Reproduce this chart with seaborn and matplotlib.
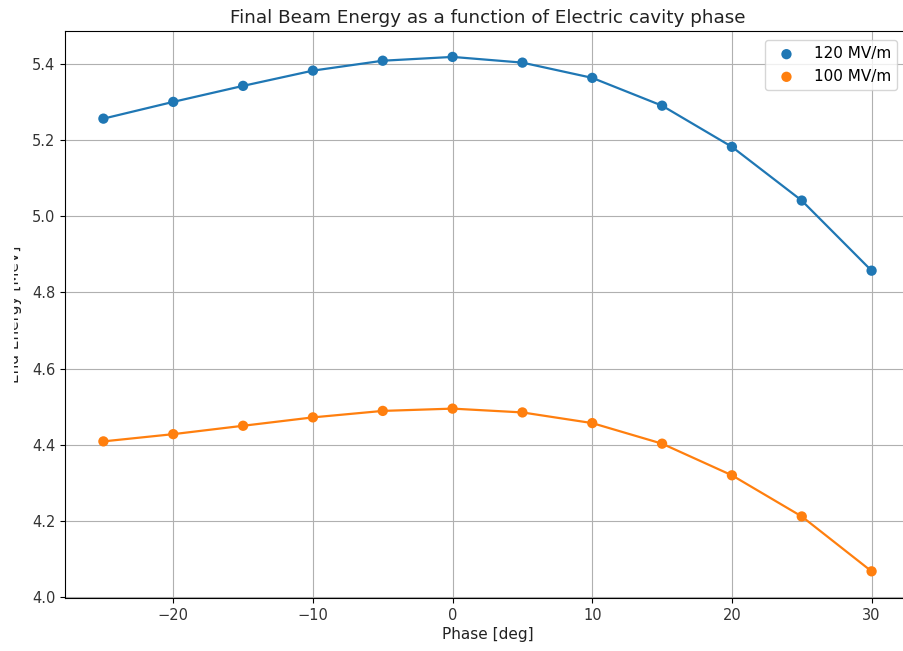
import matplotlib
matplotlib.use("Agg")
import matplotlib.pyplot as plt
from matplotlib.patches import Rectangle
import seaborn as sns
import pandas as pd

phase = [-25, -20, -15, -10, -5, 0, 5, 10, 15, 20, 25, 30]
energy_120 = [5.256, 5.300, 5.342, 5.382, 5.408, 5.418, 5.403, 5.363, 5.290, 5.182, 5.041, 4.857]
energy_100 = [4.409, 4.428, 4.450, 4.472, 4.489, 4.495, 4.485, 4.457, 4.403, 4.320, 4.212, 4.068]
labels = ["120 MV/m", "100 MV/m"]

df120 = pd.DataFrame({"phase": phase, "energy": energy_120})
df100 = pd.DataFrame({"phase": phase, "energy": energy_100})

plt.rcParams["font.family"] = ["DejaVu Sans"]

fig = plt.figure(figsize=(9.04, 6.51), dpi=100)
ax = fig.add_axes([65 / 904, 53 / 651, 845 / 904, 567 / 651])

sns.scatterplot(data=df120, x="phase", y="energy", ax=ax, color="#1f77b4", s=55,
                edgecolor="none", label=labels[0], zorder=3)
sns.lineplot(data=df120, x="phase", y="energy", ax=ax, color="#1f77b4", legend=False,
             linewidth=1.6)
sns.scatterplot(data=df100, x="phase", y="energy", ax=ax, color="#ff7f0e", s=55,
                edgecolor="none", label=labels[1], zorder=3)
sns.lineplot(data=df100, x="phase", y="energy", ax=ax, color="#ff7f0e", legend=False,
             linewidth=1.6)

ax.set_ylim(3.998, 5.486)
ax.grid(True)
ax.tick_params(labelsize=10.5, labelcolor="#333333")
ax.set_title("Final Beam Energy as a function of Electric cavity phase", fontsize=13.2,
             pad=6, color="#222222")
ax.set_xlabel("Phase [deg]", fontsize=11, labelpad=3, color="#222222")
ax.set_ylabel("End Energy [MeV]", fontsize=11, color="#222222")
ax.yaxis.set_label_coords(-43 / 845, 0.5)
ax.legend(loc="upper right", bbox_to_anchor=(0.985, 0.984), borderaxespad=0,
          fontsize=11)

# the reference image is cropped at its left edge, cutting the y label
fig.patches.append(Rectangle((0, 0), 14 / 904, 1, transform=fig.transFigure,
                             facecolor="white", edgecolor="none", zorder=10))

fig.savefig("out.png", dpi=100)
